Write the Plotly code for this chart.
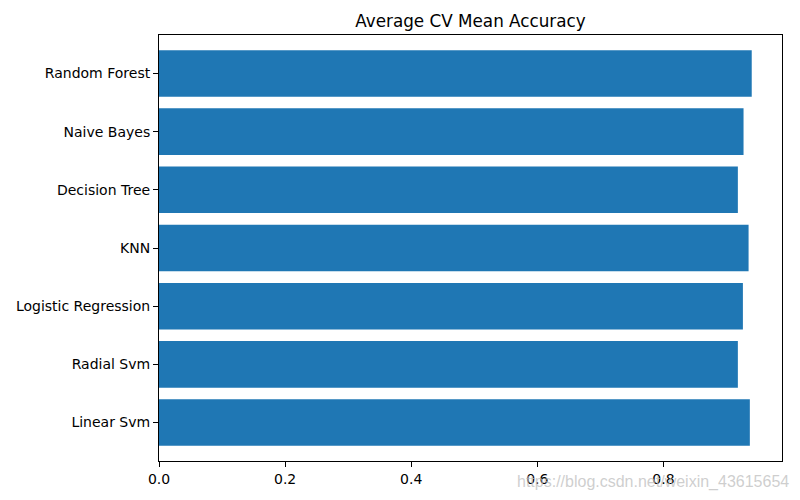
import plotly.graph_objects as go

models = ["Linear Svm", "Radial Svm", "Logistic Regression", "KNN",
          "Decision Tree", "Naive Bayes", "Random Forest"]
accuracy = [0.937, 0.918, 0.926, 0.935, 0.918, 0.927, 0.940]
x_ticks = [0.0, 0.2, 0.4, 0.6, 0.8]

fig = go.Figure(go.Bar(
    x=accuracy, y=models, orientation="h",
    marker=dict(color="#1f77b4", line=dict(width=0)),
))

font_family = "DejaVu Sans"
fig.update_layout(
    width=800, height=500,
    margin=dict(l=159, r=18, t=35, b=39),
    paper_bgcolor="white", plot_bgcolor="white",
    bargap=0.2,
    showlegend=False,
    font=dict(family=font_family, size=14, color="black"),
    title=dict(text="Average CV Mean Accuracy", x=0.5, xref="paper",
               xanchor="center", y=1, yref="paper", yanchor="bottom",
               pad=dict(b=8),
               font=dict(family=font_family, size=16.8, color="black")),
    xaxis=dict(range=[0, 0.988], tickvals=x_ticks, tickformat=".1f",
               showgrid=False, zeroline=False, showline=True, mirror=True,
               linecolor="black", linewidth=1, ticks="outside", ticklen=5,
               tickcolor="black", tickwidth=1),
    yaxis=dict(range=[-0.66, 6.66], showgrid=False, zeroline=False,
               showline=True, mirror=True, linecolor="black", linewidth=1,
               ticks="outside", ticklen=5, tickcolor="black", tickwidth=1,
               categoryorder="array", categoryarray=models),
)

fig.add_annotation(
    text="https://blog.csdn.net/weixin_43615654",
    xref="paper", yref="paper", x=1, y=0, xanchor="right", yanchor="middle",
    xshift=9, yshift=-21, showarrow=False,
    font=dict(family="Liberation Sans", size=16, color="rgba(190,190,190,0.75)"),
)

fig.write_html("out.html")
